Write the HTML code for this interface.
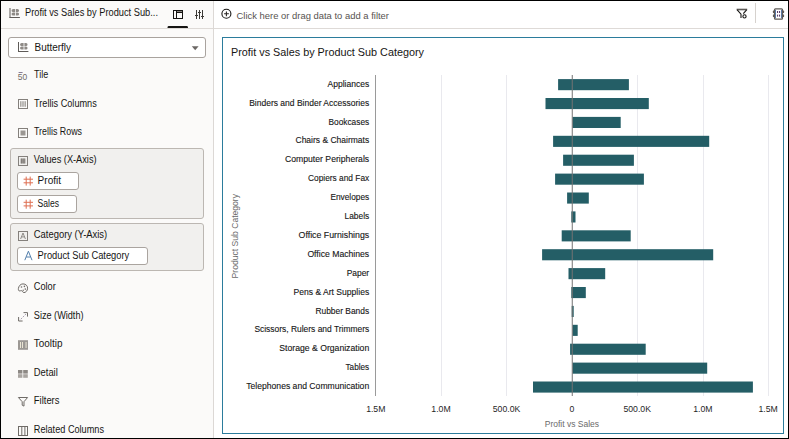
<!DOCTYPE html>
<html><head><meta charset="utf-8">
<style>
html,body{margin:0;padding:0;}
body{width:789px;height:439px;overflow:hidden;background:#000;position:relative;font-family:"Liberation Sans",sans-serif;}
div{position:absolute;box-sizing:border-box;}
#frame{left:1px;top:1px;width:787px;height:437px;background:#fff;}
#left{left:1px;top:1px;width:213px;height:437px;background:#fbfaf9;border-right:1px solid #dcd8d5;}
#lhead{left:1px;top:1px;width:212px;height:28px;border-bottom:1px solid #dedad7;}
#rhead{left:214px;top:1px;width:574px;height:28px;border-bottom:1px solid #dedad7;}
#chart{left:222px;top:37px;width:562px;height:397px;border:1px solid #2b7c9c;background:#fff;}
#dd{left:8px;top:37px;width:198px;height:21px;border:1px solid #a9a39e;border-radius:3px;background:#fff;}
.box{background:#f1f0ee;border:1px solid #bcb7b2;border-radius:3px;}
.pill{background:#fff;border:1px solid #aaa49f;border-radius:3px;}
svg{position:absolute;left:0;top:0;}
</style></head>
<body>
<div id="frame"></div>
<div id="left"></div>
<div id="lhead"></div>
<div id="rhead"></div>
<div id="dd"></div>
<div class="box" style="left:10px;top:148px;width:194px;height:71px"></div>
<div class="pill" style="left:17px;top:172px;width:62px;height:18px"></div>
<div class="pill" style="left:17px;top:195px;width:60px;height:18px"></div>
<div class="box" style="left:10px;top:223px;width:194px;height:48px"></div>
<div class="pill" style="left:17px;top:247px;width:131px;height:18px"></div>
<div id="chart"></div>
<svg width="789" height="439" viewBox="0 0 789 439">
<text x="25" y="16" font-size="10" fill="#161513" text-anchor="start" textLength="133" lengthAdjust="spacingAndGlyphs" >Profit vs Sales by Product Sub...</text>
<text x="34.5" y="51" font-size="10" fill="#161513" text-anchor="start" textLength="36.5" lengthAdjust="spacingAndGlyphs" >Butterfly</text>
<text x="34" y="78.4" font-size="10" fill="#161513" text-anchor="start" textLength="14.2" lengthAdjust="spacingAndGlyphs" >Tile</text>
<text x="34" y="106.5" font-size="10" fill="#161513" text-anchor="start" textLength="62.8" lengthAdjust="spacingAndGlyphs" >Trellis Columns</text>
<text x="34" y="135.2" font-size="10" fill="#161513" text-anchor="start" textLength="48" lengthAdjust="spacingAndGlyphs" >Trellis Rows</text>
<text x="33.8" y="163" font-size="10" fill="#161513" text-anchor="start" textLength="62.8" lengthAdjust="spacingAndGlyphs" >Values (X-Axis)</text>
<text x="37.6" y="183.6" font-size="10" fill="#161513" text-anchor="start" textLength="23.5" lengthAdjust="spacingAndGlyphs" >Profit</text>
<text x="37.6" y="206.7" font-size="10" fill="#161513" text-anchor="start" textLength="21.5" lengthAdjust="spacingAndGlyphs" >Sales</text>
<text x="33.8" y="238" font-size="10" fill="#161513" text-anchor="start" textLength="73.4" lengthAdjust="spacingAndGlyphs" >Category (Y-Axis)</text>
<text x="37.6" y="259" font-size="10" fill="#161513" text-anchor="start" textLength="91.6" lengthAdjust="spacingAndGlyphs" >Product Sub Category</text>
<text x="33.8" y="290" font-size="10" fill="#161513" text-anchor="start" textLength="22" lengthAdjust="spacingAndGlyphs" >Color</text>
<text x="33.8" y="319" font-size="10" fill="#161513" text-anchor="start" textLength="49.7" lengthAdjust="spacingAndGlyphs" >Size (Width)</text>
<text x="33.8" y="347" font-size="10" fill="#161513" text-anchor="start" textLength="28.7" lengthAdjust="spacingAndGlyphs" >Tooltip</text>
<text x="33.8" y="375.6" font-size="10" fill="#161513" text-anchor="start" textLength="24" lengthAdjust="spacingAndGlyphs" >Detail</text>
<text x="33.8" y="403.7" font-size="10" fill="#161513" text-anchor="start" textLength="25.7" lengthAdjust="spacingAndGlyphs" >Filters</text>
<text x="33.8" y="433" font-size="10" fill="#161513" text-anchor="start" textLength="70.2" lengthAdjust="spacingAndGlyphs" >Related Columns</text>
<text x="236.5" y="18.8" font-size="9.4" fill="#575350" text-anchor="start" textLength="152.5" lengthAdjust="spacingAndGlyphs" >Click here or drag data to add a filter</text>
<text x="231" y="55.5" font-size="11" fill="#161513" text-anchor="start" textLength="193" lengthAdjust="spacingAndGlyphs" >Profit vs Sales by Product Sub Category</text>
<rect x="441" y="75" width="1" height="321" fill="#e9e9ee"/>
<rect x="506" y="75" width="1" height="321" fill="#e9e9ee"/>
<rect x="637" y="75" width="1" height="321" fill="#e9e9ee"/>
<rect x="703" y="75" width="1" height="321" fill="#e9e9ee"/>
<rect x="768" y="75" width="1" height="321" fill="#e9e9ee"/>
<rect x="558.1" y="79.10" width="70.8" height="11.1" fill="#245e66"/>
<text x="369.2" y="86.75" font-size="8.8" fill="#161616" text-anchor="end" textLength="41.7" lengthAdjust="spacingAndGlyphs" stroke="#161616" stroke-width="0.12">Appliances</text>
<rect x="545.5" y="98.00" width="103.3" height="11.1" fill="#245e66"/>
<text x="369.2" y="105.65" font-size="8.8" fill="#161616" text-anchor="end" textLength="120.0" lengthAdjust="spacingAndGlyphs" stroke="#161616" stroke-width="0.12">Binders and Binder Accessories</text>
<rect x="572.5" y="116.90" width="48.2" height="11.1" fill="#245e66"/>
<text x="369.2" y="124.55" font-size="8.8" fill="#161616" text-anchor="end" textLength="40.7" lengthAdjust="spacingAndGlyphs" stroke="#161616" stroke-width="0.12">Bookcases</text>
<rect x="553.1" y="135.80" width="156.1" height="11.1" fill="#245e66"/>
<text x="369.2" y="143.45" font-size="8.8" fill="#161616" text-anchor="end" textLength="73.7" lengthAdjust="spacingAndGlyphs" stroke="#161616" stroke-width="0.12">Chairs &amp; Chairmats</text>
<rect x="563.1" y="154.70" width="70.8" height="11.1" fill="#245e66"/>
<text x="369.2" y="162.35" font-size="8.8" fill="#161616" text-anchor="end" textLength="84.3" lengthAdjust="spacingAndGlyphs" stroke="#161616" stroke-width="0.12">Computer Peripherals</text>
<rect x="555.1" y="173.60" width="88.8" height="11.1" fill="#245e66"/>
<text x="369.2" y="181.25" font-size="8.8" fill="#161616" text-anchor="end" textLength="61.2" lengthAdjust="spacingAndGlyphs" stroke="#161616" stroke-width="0.12">Copiers and Fax</text>
<rect x="567.1" y="192.50" width="21.7" height="11.1" fill="#245e66"/>
<text x="369.2" y="200.15" font-size="8.8" fill="#161616" text-anchor="end" textLength="38.8" lengthAdjust="spacingAndGlyphs" stroke="#161616" stroke-width="0.12">Envelopes</text>
<rect x="571.3" y="211.40" width="4.2" height="11.1" fill="#245e66"/>
<text x="369.2" y="219.05" font-size="8.8" fill="#161616" text-anchor="end" textLength="24.7" lengthAdjust="spacingAndGlyphs" stroke="#161616" stroke-width="0.12">Labels</text>
<rect x="561.7" y="230.30" width="69.0" height="11.1" fill="#245e66"/>
<text x="369.2" y="237.95" font-size="8.8" fill="#161616" text-anchor="end" textLength="70.6" lengthAdjust="spacingAndGlyphs" stroke="#161616" stroke-width="0.12">Office Furnishings</text>
<rect x="542.1" y="249.20" width="171.1" height="11.1" fill="#245e66"/>
<text x="369.2" y="256.85" font-size="8.8" fill="#161616" text-anchor="end" textLength="61.8" lengthAdjust="spacingAndGlyphs" stroke="#161616" stroke-width="0.12">Office Machines</text>
<rect x="568.5" y="268.10" width="36.7" height="11.1" fill="#245e66"/>
<text x="369.2" y="275.75" font-size="8.8" fill="#161616" text-anchor="end" textLength="22.5" lengthAdjust="spacingAndGlyphs" stroke="#161616" stroke-width="0.12">Paper</text>
<rect x="571.3" y="287.00" width="14.5" height="11.1" fill="#245e66"/>
<text x="369.2" y="294.65" font-size="8.8" fill="#161616" text-anchor="end" textLength="75.7" lengthAdjust="spacingAndGlyphs" stroke="#161616" stroke-width="0.12">Pens &amp; Art Supplies</text>
<rect x="571.7" y="305.90" width="2.0" height="11.1" fill="#245e66"/>
<text x="369.2" y="313.55" font-size="8.8" fill="#161616" text-anchor="end" textLength="53.8" lengthAdjust="spacingAndGlyphs" stroke="#161616" stroke-width="0.12">Rubber Bands</text>
<rect x="572.5" y="324.80" width="5.2" height="11.1" fill="#245e66"/>
<text x="369.2" y="332.45" font-size="8.8" fill="#161616" text-anchor="end" textLength="114.8" lengthAdjust="spacingAndGlyphs" stroke="#161616" stroke-width="0.12">Scissors, Rulers and Trimmers</text>
<rect x="570.1" y="343.70" width="75.6" height="11.1" fill="#245e66"/>
<text x="369.2" y="351.35" font-size="8.8" fill="#161616" text-anchor="end" textLength="89.9" lengthAdjust="spacingAndGlyphs" stroke="#161616" stroke-width="0.12">Storage &amp; Organization</text>
<rect x="572.5" y="362.60" width="134.7" height="11.1" fill="#245e66"/>
<text x="369.2" y="370.25" font-size="8.8" fill="#161616" text-anchor="end" textLength="23.7" lengthAdjust="spacingAndGlyphs" stroke="#161616" stroke-width="0.12">Tables</text>
<rect x="533.0" y="381.50" width="219.9" height="11.1" fill="#245e66"/>
<text x="369.2" y="389.15" font-size="8.8" fill="#161616" text-anchor="end" textLength="123.0" lengthAdjust="spacingAndGlyphs" stroke="#161616" stroke-width="0.12">Telephones and Communication</text>
<rect x="375" y="75" width="1" height="321" fill="#9a9a9a"/>
<rect x="571.75" y="75" width="1" height="321" fill="#737373"/>
<text x="375.8" y="412.2" font-size="8.7" fill="#1f1f1f" text-anchor="middle" >1.5M</text>
<text x="441" y="412.2" font-size="8.7" fill="#1f1f1f" text-anchor="middle" >1.0M</text>
<text x="506.5" y="412.2" font-size="8.7" fill="#1f1f1f" text-anchor="middle" >500.0K</text>
<text x="571.8" y="412.2" font-size="8.7" fill="#1f1f1f" text-anchor="middle" >0</text>
<text x="637.2" y="412.2" font-size="8.7" fill="#1f1f1f" text-anchor="middle" >500.0K</text>
<text x="702.9" y="412.2" font-size="8.7" fill="#1f1f1f" text-anchor="middle" >1.0M</text>
<text x="768.2" y="412.2" font-size="8.7" fill="#1f1f1f" text-anchor="middle" >1.5M</text>
<text x="571.9" y="427" font-size="8.7" fill="#6a6a6a" text-anchor="middle" textLength="54.2" lengthAdjust="spacingAndGlyphs" >Profit vs Sales</text>
<text x="0" y="0" font-size="8.7" fill="#6a6a6a" text-anchor="middle" textLength="84.4" lengthAdjust="spacingAndGlyphs" transform="translate(238.2 236.2) rotate(-90)">Product Sub Category</text>
<g transform="translate(9.5 8)"><rect x="0" y="0" width="1" height="10" fill="#5f5b58"/><rect x="0" y="9" width="10.4" height="1" fill="#5f5b58"/><path d="M5.6 0.9h-2a1.55 1.55 0 0 0 0 3.1h2zM5.6 4.4h-2a1.55 1.55 0 0 0 0 3.1h2zM6.4 0.9h1.6a1.55 1.55 0 0 1 0 3.1h-1.6zM6.4 4.4h1.6a1.55 1.55 0 0 1 0 3.1h-1.6z" fill="#8e8a86"/></g>
<g fill="none" stroke="#161513" stroke-width="1"><rect x="173.5" y="10.5" width="9" height="8"/><path d="M176.5 10.5v8M176.5 12.5h6"/></g>
<rect x="177" y="11" width="5" height="1" fill="#8a8580"/>
<path d="M167.5 28v-0.6a1.4 1.4 0 0 1 1.4-1.4h17.7a1.4 1.4 0 0 1 1.4 1.4v0.6z" fill="#161513"/>
<g fill="#3c3936"><rect x="196" y="10" width="1" height="9"/><rect x="199" y="10" width="1" height="9"/><rect x="202" y="10" width="1" height="9"/><rect x="195" y="15" width="3" height="1"/><rect x="198" y="12" width="3" height="1"/><rect x="201" y="16" width="3" height="1"/></g>
<circle cx="226.4" cy="13.8" r="4.5" fill="none" stroke="#161513" stroke-width="1.1"/>
<path d="M224.1 13.8h4.8M226.4 11.4v4.8" stroke="#2a2725" stroke-width="1.1"/>
<rect x="736.6" y="8.7" width="10.6" height="1.6" fill="#5d5a57"/>
<path d="M737.2 9.8l3.8 4.4v3.8" fill="none" stroke="#161513" stroke-width="1.1"/>
<path d="M746.6 9.8l-3.3 3.8" fill="none" stroke="#161513" stroke-width="1.1"/>
<circle cx="744.5" cy="16.4" r="1.6" fill="#fff" stroke="#161513" stroke-width="1.1"/>
<rect x="755" y="3" width="1" height="20" fill="#d6d2ce"/>
<rect x="774.6" y="8.9" width="7.8" height="10.2" rx="0.8" fill="#fff" stroke="#5e5a57" stroke-width="1.4"/>
<g fill="#4f6fa0"><rect x="775.1" y="10" width="0.9" height="8"/><rect x="781" y="10" width="0.9" height="8"/></g>
<g fill="#5e5a57"><rect x="772.9" y="10.6" width="1.8" height="2.4" rx="0.6"/><rect x="772.9" y="14.4" width="1.8" height="2.6" rx="0.6"/><rect x="782.3" y="10.6" width="1.8" height="2.4" rx="0.6"/><rect x="782.3" y="14.4" width="1.8" height="2.6" rx="0.6"/></g>
<g fill="#5a3f6e"><rect x="777" y="11" width="1.1" height="2"/><rect x="779" y="11" width="1.1" height="2"/><rect x="777" y="14.6" width="1.1" height="2"/><rect x="779" y="14.6" width="1.1" height="2"/></g>
<g transform="translate(18 42)"><rect x="0" y="0" width="1" height="10" fill="#5f5b58"/><rect x="0" y="9" width="10.4" height="1" fill="#5f5b58"/><path d="M5.6 0.9h-2a1.55 1.55 0 0 0 0 3.1h2zM5.6 4.4h-2a1.55 1.55 0 0 0 0 3.1h2zM6.4 0.9h1.6a1.55 1.55 0 0 1 0 3.1h-1.6zM6.4 4.4h1.6a1.55 1.55 0 0 1 0 3.1h-1.6z" fill="#8e8a86"/></g>
<path d="M191.8 46.2h6.8l-3.4 4z" fill="#6b6764"/>
<rect x="18.6" y="72" width="4" height="0.9" fill="#7a6f8a"/>
<text x="17.8" y="79.6" font-size="8.6" fill="#6f6b67" textLength="9.4" lengthAdjust="spacingAndGlyphs">50</text>
<rect x="18.5" y="99.5" width="9" height="9" fill="none" stroke="#84807c" stroke-width="1"/>
<g fill="#8a8682"><rect x="20.3" y="101.2" width="1.1" height="5.6"/><rect x="22.45" y="101.2" width="1.1" height="5.6"/><rect x="24.6" y="101.2" width="1.1" height="5.6"/></g>
<rect x="18.5" y="128.5" width="9" height="9" fill="none" stroke="#84807c" stroke-width="1"/>
<rect x="20.5" y="130.5" width="5" height="5" fill="#9b9793"/>
<rect x="18.5" y="156.5" width="9" height="9" fill="none" stroke="#84807c" stroke-width="1"/>
<rect x="20.5" y="158.5" width="5" height="5" fill="#a29e9a"/>
<g fill="#6e6a66"><rect x="21.4" y="158.5" width="0.8" height="5"/><rect x="23.6" y="158.5" width="0.8" height="5"/></g>
<path d="M26.2 176.6v9M30.2 176.6v9M23.6 179.2h9.4M23.6 182.79999999999998h9.4" stroke="#de6e52" stroke-width="1"/>
<path d="M26.2 199.7v9M30.2 199.7v9M23.6 202.29999999999998h9.4M23.6 205.89999999999998h9.4" stroke="#de6e52" stroke-width="1"/>
<rect x="18.5" y="231.5" width="9" height="9" fill="none" stroke="#84807c" stroke-width="1"/>
<path d="M20.6 239l2.4-6 2.4 6M21.5 236.9h3" fill="none" stroke="#85817d" stroke-width="0.9"/>
<path d="M24.8 260.2l3.6-9 3.6 9M26.2 257h4.4" fill="none" stroke="#5480ad" stroke-width="1"/>
<path d="M23 283.9c2.8 0 4.6 1.9 4.6 4.3 0 2.6-2 4.4-3.6 4.4-1.3 0-1.2-1.4-2.2-1.9-0.8-0.4-1.6 0.5-2.6 0.2-0.8-0.3-0.9-1.3-0.8-2.4 0.3-2.4 2-4.6 4.6-4.6z" fill="none" stroke="#6f6b67" stroke-width="1"/>
<g fill="#6f6b67"><circle cx="21.5" cy="287" r="0.8"/><circle cx="24.4" cy="286.4" r="0.8"/><circle cx="25.3" cy="289.1" r="0.8"/><circle cx="23.2" cy="290.3" r="0.7"/></g>
<path d="M23.5 312.6h4v4M18.6 317v4h4" fill="none" stroke="#6f6b67" stroke-width="1"/>
<path d="M20.8 319.2l1-1M22.8 317.2l1-1M24.8 315.2l1-1" stroke="#8a7f99" stroke-width="0.9"/>
<rect x="18" y="340.2" width="10" height="9.6" fill="#9c9894"/>
<g fill="#f3eedc"><rect x="20" y="342" width="0.9" height="6"/><rect x="22" y="342" width="0.9" height="6"/><rect x="25.6" y="342" width="0.9" height="6"/></g>
<g fill="#8d8985"><rect x="18" y="370" width="4.4" height="3.6"/><rect x="23.2" y="370" width="4.6" height="3.6"/></g>
<g fill="#a9a5a1"><rect x="18" y="374.2" width="4.4" height="3.6"/><rect x="23.2" y="374.2" width="4.6" height="3.6"/></g>
<path d="M18.4 397.5h9.2l-3.6 4.2v4.4l-1.8-0.9v-3.5z" fill="none" stroke="#6f6b67" stroke-width="1" stroke-linejoin="round"/>
<rect x="18.5" y="426.5" width="9" height="9" fill="none" stroke="#6f6b67" stroke-width="1"/>
<g fill="#6f6b67"><rect x="21.3" y="427" width="1" height="8.5"/><rect x="24.4" y="427" width="1" height="8.5"/></g>
</svg>
</body></html>
